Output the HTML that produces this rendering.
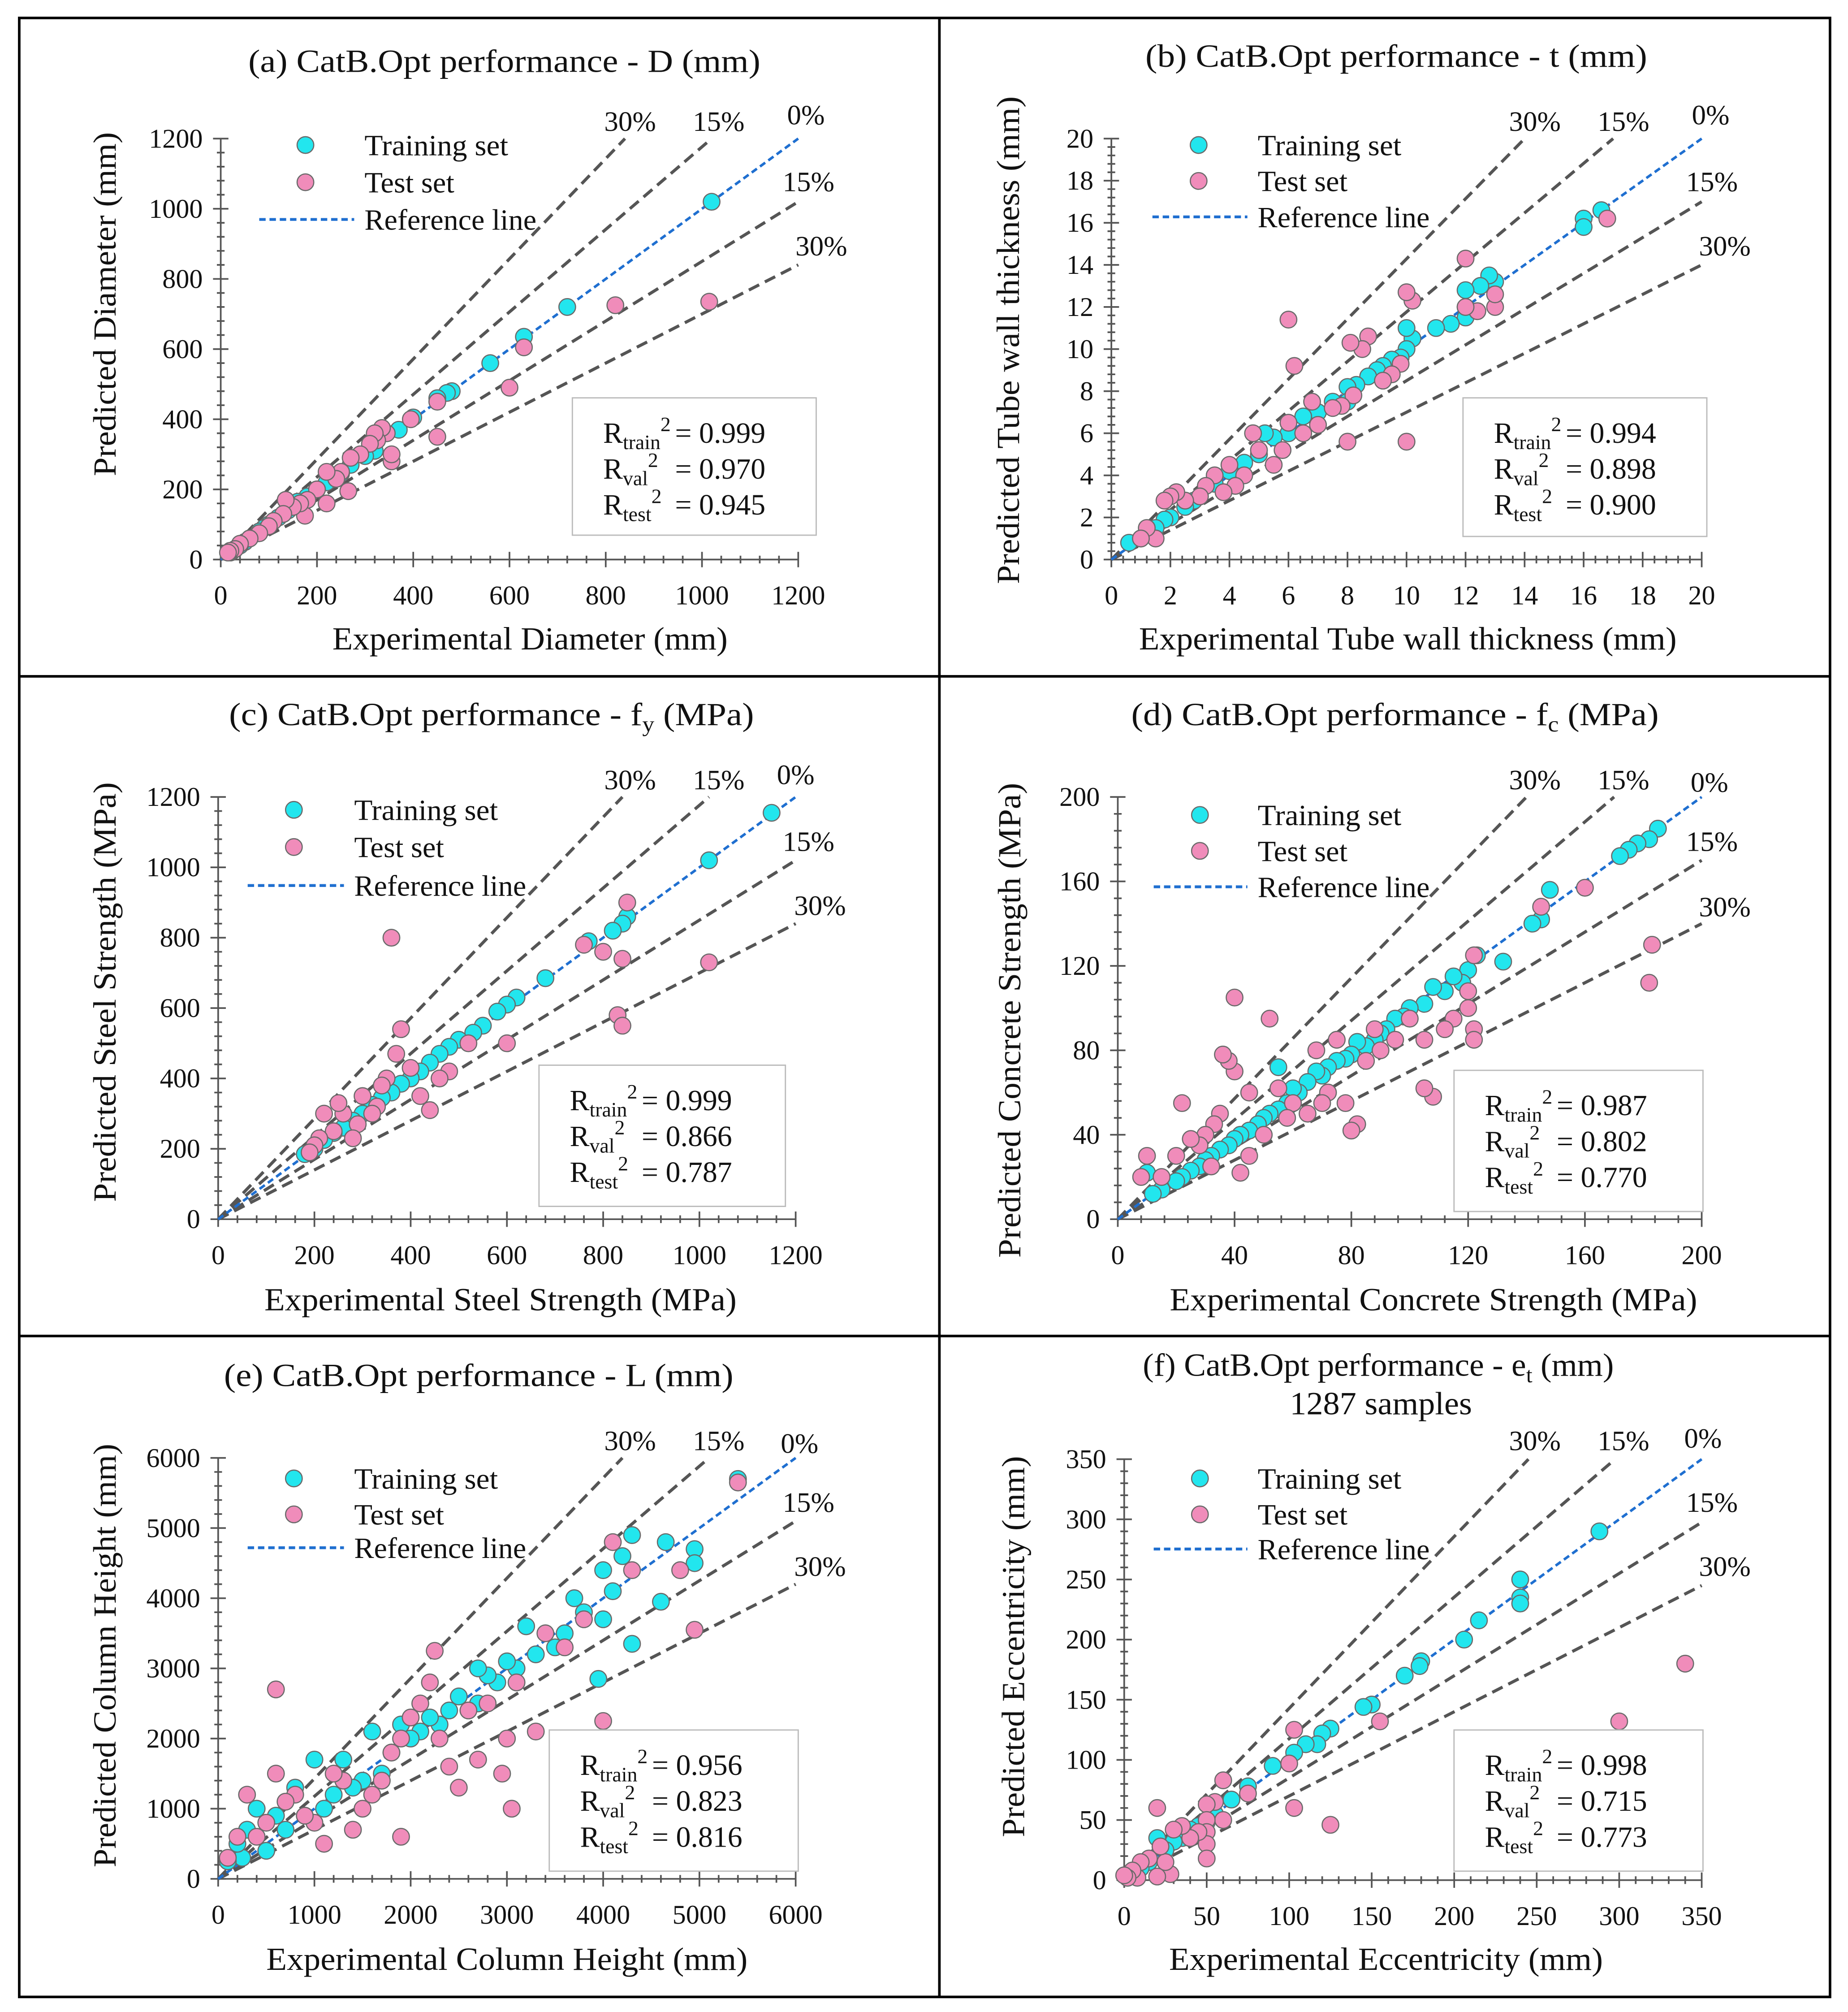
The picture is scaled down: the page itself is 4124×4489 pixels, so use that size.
<!DOCTYPE html>
<html><head><meta charset="utf-8">
<style>
html,body{margin:0;padding:0;background:#fff;}
svg, svg text{font-family:"Liberation Serif","DejaVu Serif",serif;}
</style></head>
<body>
<svg id="fig" width="4124" height="4484" viewBox="0 0 1440 1566" preserveAspectRatio="none" xmlns="http://www.w3.org/2000/svg" font-family="Liberation Serif, serif">
<rect x="0" y="0" width="1440" height="1566" fill="#fff"/>
<g stroke="#000" stroke-width="2" fill="none">
<rect x="15" y="14" width="1411" height="1542"/>
<line x1="732" y1="14" x2="732" y2="1556"/>
<line x1="15" y1="527" x2="1426" y2="527"/>
<line x1="15" y1="1041" x2="1426" y2="1041"/>
</g>
</svg>
<script>
// ---------- data ----------
const panelIds = ['a','b','c','d','e','f'];
const axisMax = [1200, 20, 1200, 200, 6000, 350];
const tickStep = [200, 2, 200, 40, 1000, 50];
const r2Train = ['0.999','0.994','0.999','0.987','0.956','0.998'];
const r2Val = ['0.970','0.898','0.866','0.802','0.823','0.715'];
const r2Test = ['0.945','0.900','0.787','0.770','0.816','0.773'];

const trainA = [[1020,1020],[720,720],[630,635],[560,560],[480,480],[470,475],[450,460],[400,405],[370,370],[320,310],[300,295],[270,270],[250,245],[220,220],[200,200],[180,180],[160,165],[140,140],[120,120],[100,100],[90,90],[80,80],[60,60],[50,50],[40,40],[30,30],[20,20],[25,25]];
const testA = [[1015,735],[820,725],[630,605],[600,490],[450,350],[450,450],[395,400],[355,280],[355,300],[345,360],[335,375],[325,340],[320,360],[310,330],[290,300],[270,290],[265,195],[250,250],[240,230],[220,250],[220,160],[200,200],[180,170],[175,125],[165,160],[150,150],[135,170],[130,130],[110,110],[100,95],[80,75],[60,60],[40,45],[30,30],[20,25],[15,20]];
const trainB = [[16.6,16.6],[16,16.2],[16,15.8],[13,13.2],[12.8,13.5],[12.5,13],[12,12.8],[12,12],[12,11.5],[11.5,11.2],[11,11],[10.2,10.5],[10,11],[10,10],[9.8,9.6],[9.5,9.5],[9.2,9.2],[9,9],[8.7,8.7],[8.3,8.3],[8,8.2],[8,7.5],[7.5,7.5],[7,7],[6.5,6.8],[6,6],[5.5,5.8],[5.2,6],[5,5],[4.5,4.6],[4,4.2],[3.5,3.6],[3,3],[2.8,2.8],[2.5,2.5],[2,2],[1.8,1.9],[1.5,1.5],[1,1],[0.6,0.8]];
const testB = [[16.8,16.2],[13,12],[13,12.6],[12.4,11.8],[12,14.3],[12,12],[10.2,12.3],[10,12.7],[10,5.6],[9.8,9.3],[9.5,8.8],[9.2,8.5],[8.7,10.6],[8.5,10],[8.1,10.3],[8.2,7.8],[8,5.6],[7.8,7.3],[7.5,7.2],[7,6.4],[6.8,7.5],[6.5,6],[6.2,9.2],[6,11.4],[6,6.5],[5.8,5.2],[5.5,4.5],[5,5.2],[4.8,6],[4.5,4],[4.2,3.5],[4,4.5],[3.8,3.2],[3.5,4],[3.2,3.5],[3,3],[2.5,2.8],[2.2,3.2],[2,3],[1.8,2.8],[1.5,1],[1.2,1.5],[1,1]];
const trainC = [[1150,1155],[1020,1020],[850,860],[840,840],[820,820],[770,790],[680,685],[620,630],[600,610],[580,590],[550,550],[530,530],[500,510],[480,490],[460,470],[440,445],[420,420],[400,400],[380,385],[360,360],[340,345],[320,325],[300,300],[280,280],[260,260],[240,245],[220,225],[200,200],[180,185]];
const testC = [[1020,730],[850,900],[840,740],[830,580],[840,550],[800,760],[760,780],[600,500],[520,500],[480,420],[460,400],[440,310],[420,350],[400,430],[380,540],[360,800],[370,470],[350,400],[340,380],[330,320],[320,300],[300,350],[290,270],[280,230],[260,300],[250,330],[240,250],[220,300],[210,230],[200,210],[190,190]];
const trainD = [[185,185],[182,180],[178,178],[175,175],[172,172],[148,156],[145,142],[142,140],[132,122],[123,125],[120,118],[118,112],[115,115],[112,108],[108,110],[105,102],[100,100],[98,96],[95,95],[92,90],[90,88],[88,85],[85,82],[82,84],[80,78],[78,76],[75,75],[72,72],[70,68],[68,70],[65,65],[62,60],[60,62],[58,55],[55,72],[55,52],[52,50],[50,48],[48,45],[45,42],[42,40],[40,38],[38,35],[35,33],[32,30],[30,28],[28,25],[25,23],[22,20],[20,18],[15,14],[12,12],[10,22]];
const testD = [[183,130],[182,112],[160,157],[145,148],[122,125],[122,90],[122,85],[120,100],[120,108],[115,95],[112,90],[108,58],[105,62],[105,85],[100,95],[95,85],[90,80],[88,90],[85,75],[82,45],[80,42],[78,55],[75,85],[72,60],[70,55],[68,80],[65,50],[60,55],[58,48],[55,62],[52,95],[50,40],[45,30],[45,60],[42,22],[40,105],[40,70],[38,75],[36,78],[35,50],[33,45],[32,25],[30,40],[28,35],[25,38],[22,55],[20,30],[15,20],[10,30],[8,20]];
const trainE = [[5400,5700],[4950,4700],[4950,4500],[4650,4800],[4600,3950],[4300,4900],[4300,3350],[4200,4600],[4100,4100],[4000,4400],[4000,3700],[3950,2850],[3800,3800],[3700,4000],[3600,3500],[3500,3300],[3300,3200],[3200,3600],[3100,3000],[3000,3100],[2900,2800],[2800,2900],[2700,3000],[2700,2500],[2500,2600],[2400,2400],[2300,2200],[2200,2300],[2100,2100],[2000,2000],[1900,2200],[1800,1800],[1700,1500],[1600,2100],[1500,1400],[1400,1300],[1300,1700],[1200,1200],[1100,1000],[1000,1700],[900,900],[800,1300],[700,700],[600,900],[500,400],[400,1000],[300,700],[250,300],[200,500],[100,250]];
const testE = [[5400,5650],[4950,3550],[4800,4400],[4300,4400],[4100,4800],[4000,2250],[3800,3700],[3600,3300],[3400,3500],[3300,2100],[3100,2800],[3000,2000],[3050,1000],[2950,1500],[2800,2500],[2700,1700],[2600,2400],[2500,1300],[2400,1600],[2300,2000],[2250,3250],[2200,2800],[2100,2500],[2000,2300],[1900,600],[1900,2000],[1800,1800],[1700,1400],[1600,1200],[1500,1000],[1400,700],[1300,1400],[1200,1500],[1100,500],[1000,800],[900,900],[800,1200],[700,1100],[600,2700],[600,1500],[500,800],[400,600],[300,1200],[200,600],[100,300]];
const trainF = [[288,290],[240,250],[240,235],[240,230],[215,216],[206,200],[180,182],[179,178],[170,170],[150,146],[145,144],[125,126],[120,122],[117,113],[110,113],[103,106],[90,95],[75,78],[65,67],[55,55],[50,48],[45,45],[40,42],[35,35],[30,32],[25,25],[20,35],[15,15],[10,10],[5,5],[2,2]];
const testF = [[340,180],[300,132],[155,132],[125,46],[103,125],[103,60],[100,97],[75,72],[60,83],[60,50],[55,65],[50,63],[50,50],[50,40],[50,30],[50,18],[45,40],[40,35],[35,45],[30,42],[28,5],[25,15],[22,28],[20,60],[20,3],[15,18],[10,15],[8,2],[5,8],[2,2],[0,4]];
const trainSets = [trainA,trainB,trainC,trainD,trainE,trainF];
const testSets = [testA,testB,testC,testD,testE,testF];

// ---------- layout ----------
const geo = [
 {ox:172,oy:436,x1:622,y1:108, title:[393,48,399], xl:[413,498,308], yl:[82,237,268], leg:[238,284,113,142,171], box:[446,310,190,107], pct:[[491,94],[560,94],[628,89],[630,141],[640,191]]},
 {ox:866,oy:436,x1:1326,y1:108, title:[1088,44,391], xl:[1097,498,419], yl:[786,265,380], leg:[934,980,113,141,169], box:[1140,310,190,108], pct:[[1196,94],[1265,94],[1333,89],[1334,141],[1344,191]]},
 {ox:170,oy:950,x1:620,y1:621, title:[383,557,409], xl:[390,1013,368], yl:[82,773,327], leg:[229,276,631,660,690], box:[420,830,192,110], pct:[[491,607],[560,607],[620,603],[630,655],[639,705]]},
 {ox:871,oy:950,x1:1326,y1:621, title:[1087,557,411], xl:[1117,1013,411], yl:[787,795,370], leg:[935,980,635,663,691], box:[1133,834,194,110], pct:[[1196,607],[1265,607],[1332,609],[1334,655],[1344,706]]},
 {ox:170,oy:1464,x1:620,y1:1136, title:[373,1072,397], xl:[395,1527,375], yl:[82,1290,330], leg:[229,276,1152,1180,1206], box:[428,1348,194,110], pct:[[491,1122],[560,1122],[623,1124],[630,1170],[639,1220]]},
 {ox:876,oy:1465,x1:1326,y1:1137, title:[1074,1064,367], xl:[1080,1527,338], yl:[790,1283,297], leg:[935,980,1152,1180,1207], box:[1133,1348,194,110], pct:[[1196,1122],[1265,1122],[1327,1120],[1334,1170],[1344,1220]]}
];
const titles = [
 ['(a) CatB.Opt performance - D (mm)'],
 ['(b) CatB.Opt performance - t (mm)'],
 ['(c) CatB.Opt performance - f','y',' (MPa)'],
 ['(d) CatB.Opt performance - f','c',' (MPa)'],
 ['(e) CatB.Opt performance - L (mm)'],
 ['(f) CatB.Opt performance - e','t',' (mm)']
];
const xLabels = ['Experimental  Diameter (mm)','Experimental  Tube wall  thickness (mm)','Experimental  Steel Strength (MPa)','Experimental  Concrete Strength (MPa)','Experimental  Column Height (mm)','Experimental  Eccentricity (mm)'];
const yLabels = ['Predicted Diameter  (mm)','Predicted Tube wall  thickness (mm)','Predicted Steel Strength (MPa)','Predicted Concrete Strength (MPa)','Predicted Column Height (mm)','Predicted Eccentricity  (mm)'];

const NS='http://www.w3.org/2000/svg';
const svg=document.getElementById('fig');
const FF='Liberation Serif, DejaVu Serif, serif';
function mk(tag,attrs,parent){const e=document.createElementNS(NS,tag);for(const k in attrs)e.setAttribute(k,attrs[k]);if(tag==='text')e.setAttribute('font-family',FF);(parent||svg).appendChild(e);return e;}

panelIds.forEach((pid,i)=>{
  const g=geo[i], M=axisMax[i], st=tickStep[i];
  const sx=v=>g.ox+(v/M)*(g.x1-g.ox);
  const sy=v=>g.oy-(v/M)*(g.oy-g.y1);
  const P=mk('g',{});
  
  

  // title
  const t=mk('text',{x:g.title[0]-g.title[2]/2,y:g.title[1]+8,'font-size':25,fill:'#111',textLength:g.title[2],lengthAdjust:'spacingAndGlyphs'},P);
  
  
  const tp=titles[i];
  const a1=mk('tspan',{},t); a1.textContent=tp[0];
  if(tp.length>1){const s=mk('tspan',{'font-size':17,dy:5},t);s.textContent=tp[1];const r=mk('tspan',{dy:-5},t);r.textContent=tp[2];}
  if(pid==='f'){const t2=mk('text',{x:1005,y:1102,'font-size':25,fill:'#111',textLength:142,lengthAdjust:'spacingAndGlyphs'},P);
    
    
    t2.textContent='1287 samples';}

  // axes
  const ax=mk('g',{stroke:'#555','stroke-width':1.3},P);
  
  
  mk('line',{x1:g.ox,y1:g.oy,x2:g.x1,y2:g.oy},ax);
  mk('line',{x1:g.ox,y1:g.oy,x2:g.ox,y2:g.y1},ax);
  const nmin=5;
  for(let v=0;v<=M+1e-9;v+=st/nmin){
    const maj=Math.abs(v/st-Math.round(v/st))<1e-6, L=maj?6:3;
    mk('line',{x1:sx(v),y1:g.oy-L,x2:sx(v),y2:g.oy+L},ax);
    mk('line',{x1:g.ox-L,y1:sy(v),x2:g.ox+L,y2:sy(v)},ax);
  }
  for(let k=0;k*st<=M+1e-9;k++){
    const v=k*st;
    const xt=mk('text',{x:sx(v),y:g.oy+35,'text-anchor':'middle','font-size':21,fill:'#111'},P);
    
    
    xt.textContent=String(v);
    const yt=mk('text',{x:g.ox-14,y:sy(v)+7,'text-anchor':'end','font-size':21,fill:'#111'},P);
    
    
    yt.textContent=String(v);
  }
  const xl=mk('text',{x:g.xl[0]-g.xl[2]/2,y:g.xl[1]+8,'font-size':25,fill:'#111',textLength:g.xl[2],lengthAdjust:'spacingAndGlyphs'},P);
  
  
  xl.setAttribute('xml:space','preserve');
  xl.textContent=xLabels[i];
  const yl=mk('text',{x:-g.yl[2]/2,y:0,'font-size':25,fill:'#111',textLength:g.yl[2],lengthAdjust:'spacingAndGlyphs',transform:`translate(${g.yl[0]+8},${g.yl[1]}) rotate(-90)`},P);
  
  
  yl.setAttribute('xml:space','preserve');
  yl.textContent=yLabels[i];

  // error lines
  const lines=[[1/0.7,'line-plus-30'],[1/0.85,'line-plus-15'],[0.85,'line-minus-15'],[0.7,'line-minus-30']];
  lines.forEach(([k,nm])=>{
    const xe=k>1?M/k:M, ye=k>1?M:M*k;
    const l=mk('line',{x1:sx(0),y1:sy(0),x2:sx(xe),y2:sy(ye),stroke:'#555','stroke-width':2.4,'stroke-dasharray':'9,5'},P);
    
    
  });
  const ref=mk('line',{x1:sx(0),y1:sy(0),x2:sx(M),y2:sy(M),stroke:'#1f6fd0','stroke-width':2,'stroke-dasharray':'5,3'},P);
  
  
  const pl=['30%','15%','0%','15%','30%'];
  g.pct.forEach((p,j)=>{
    const tx=mk('text',{x:p[0],y:p[1]+8,'text-anchor':'middle','font-size':22,fill:'#111'},P);
    
    
    tx.textContent=pl[j];
  });

  // points
  const drawPts=(arr,fill,nm)=>{
    const gg=mk('g',{},P);
    
    
    arr.forEach(d=>{
      const c=mk('circle',{cx:sx(d[0]),cy:sy(d[1]),r:6.5,fill:fill,stroke:'#6a6a6a','stroke-width':0.9},gg);
      
      
    });
  };
  drawPts(trainSets[i],'#22e6ee','training-set');
  drawPts(testSets[i],'#f08cba','test-set');

  // legend
  const lg=mk('g',{},P);
  
  
  const [mx,tx0,y1,y2,y3]=g.leg;
  mk('circle',{cx:mx,cy:y1,r:6.5,fill:'#22e6ee',stroke:'#6a6a6a','stroke-width':0.9},lg);
  mk('circle',{cx:mx,cy:y2,r:6.5,fill:'#f08cba',stroke:'#6a6a6a','stroke-width':0.9},lg);
  mk('line',{x1:mx-36,y1:y3,x2:tx0-8,y2:y3,stroke:'#1f6fd0','stroke-width':2.2,'stroke-dasharray':'5,3'},lg);
  [['Training set',y1,112],['Test set',y2,70],['Reference line',y3,134]].forEach(([s,yy,w])=>{
    const e=mk('text',{x:tx0,y:yy+8,'font-size':23,fill:'#111',textLength:w,lengthAdjust:'spacingAndGlyphs'},lg);
    
    
    e.textContent=s;
  });

  // stats box
  const b=g.box;
  const bx=mk('g',{},P);
  
  
  mk('rect',{x:b[0],y:b[1],width:b[2],height:b[3],fill:'#fff',stroke:'#bbb','stroke-width':1},bx);
  const rows=[['train',r2Train[i]],['val',r2Val[i]],['test',r2Test[i]]];
  rows.forEach(([sub,val],j)=>{
    const yy=b[1]+35+j*28;
    const e=mk('text',{x:b[0]+24,y:yy,'font-size':23,fill:'#111'},bx);
    
    
    const r=mk('tspan',{},e);r.textContent='R';
    const s=mk('tspan',{'font-size':16,dy:5},e);s.textContent=sub;
    const sp=mk('tspan',{'font-size':16,dy:-14},e);sp.textContent='2';
    const v=mk('tspan',{x:b[0]+80,dy:9},e);v.textContent='= '+val;
  });
});
</script>
</body></html>
